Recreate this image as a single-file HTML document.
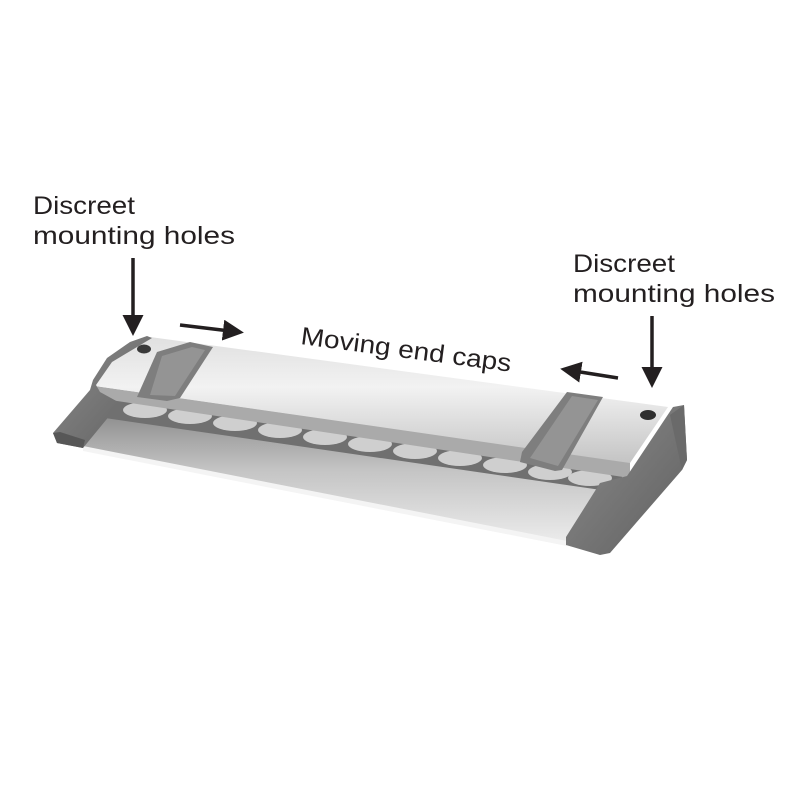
<!DOCTYPE html>
<html><head><meta charset="utf-8"><style>
html,body{margin:0;padding:0;background:#fff;width:800px;height:800px;overflow:hidden}
svg text{font-family:"Liberation Sans",sans-serif;fill:#231f20;font-size:25px}
</style></head><body>
<svg width="800" height="800" viewBox="0 0 800 800" xmlns="http://www.w3.org/2000/svg">
<defs>
<linearGradient id="top" x1="0" y1="0" x2="0" y2="1">
<stop offset="0" stop-color="#e0e0e0"/><stop offset="0.4" stop-color="#f2f2f2"/><stop offset="1" stop-color="#c4c4c4"/></linearGradient>
<linearGradient id="base" x1="0" y1="0" x2="0" y2="1">
<stop offset="0" stop-color="#8a8a8a"/><stop offset="0.45" stop-color="#c4c4c4"/><stop offset="1" stop-color="#ececec"/></linearGradient>
<linearGradient id="cap" x1="0" y1="0" x2="1" y2="1">
<stop offset="0" stop-color="#8c8c8c"/><stop offset="1" stop-color="#606060"/></linearGradient>
<marker id="ah" markerWidth="6" markerHeight="6" refX="2" refY="3" orient="auto" markerUnits="strokeWidth"><path d="M0,0 L6,3 L0,6 z" fill="#231f20"/></marker>
</defs>

<polygon points="88,410 620,485 600,500 567,543 83,448" fill="url(#base)"/>
<polygon points="83,446 567,541 567,546 83,451" fill="#f4f4f4"/>
<polygon points="105,395 625,472 615,492 105,418" fill="#707070"/>
<g fill="#cfcfcf">
<ellipse cx="145" cy="410" rx="22" ry="8"/><ellipse cx="190" cy="416" rx="22" ry="8"/>
<ellipse cx="235" cy="423" rx="22" ry="8"/><ellipse cx="280" cy="430" rx="22" ry="8"/>
<ellipse cx="325" cy="437" rx="22" ry="8"/><ellipse cx="370" cy="444" rx="22" ry="8"/>
<ellipse cx="415" cy="451" rx="22" ry="8"/><ellipse cx="460" cy="458" rx="22" ry="8"/>
<ellipse cx="505" cy="465" rx="22" ry="8"/><ellipse cx="550" cy="472" rx="22" ry="8"/>
<ellipse cx="590" cy="478" rx="22" ry="8"/>
</g>
<polygon points="95,386 630,462 630,478 97,398" fill="#aaaaaa"/>
<polygon points="150,337 668,407 630,463 95,386 107,358" fill="url(#top)"/>
<ellipse cx="144" cy="349" rx="7" ry="4.5" fill="#3a3a3a"/>
<ellipse cx="648" cy="415" rx="8" ry="5" fill="#2e2e2e"/>
<polygon points="157,352 190,342 213,347 180,398 167,401 137,397" fill="#7e7e7e"/>
<polygon points="162,356 192,347 205,350 175,396 150,395" fill="#949494"/>
<polygon points="567,392 603,397 562,470 555,471 520,462 522,452" fill="#7e7e7e"/>
<polygon points="572,396 598,400 558,466 530,458" fill="#949494"/>
<polygon points="147,336 152,338 112,362 96,385 100,392 120,403 83,448 57,443 53,433 90,390 93,380 107,358 130,342" fill="url(#cap)"/>
<polygon points="53,433 57,443 83,448 85,440 60,432" fill="#575757"/>
<polygon points="673,407 684,405 687,460 682,470 610,553 600,555 566,545 566,537 600,483 627,476" fill="url(#cap)"/>
<polygon points="684,405 687,460 682,470 670,415" fill="#6a6a6a"/>

<text x="33" y="214" textLength="102" lengthAdjust="spacingAndGlyphs">Discreet</text>
<text x="33" y="244" textLength="202" lengthAdjust="spacingAndGlyphs">mounting holes</text>
<text x="573" y="272" textLength="102" lengthAdjust="spacingAndGlyphs">Discreet</text>
<text x="573" y="302" textLength="202" lengthAdjust="spacingAndGlyphs">mounting holes</text>
<text x="300" y="344" transform="rotate(7.5 300 344)" textLength="212" lengthAdjust="spacingAndGlyphs">Moving end caps</text>

<line x1="133" y1="258" x2="133" y2="322" stroke="#231f20" stroke-width="3.5" marker-end="url(#ah)"/>
<line x1="652" y1="316" x2="652" y2="374" stroke="#231f20" stroke-width="3.5" marker-end="url(#ah)"/>
<line x1="180" y1="325" x2="230" y2="331" stroke="#231f20" stroke-width="3.5" marker-end="url(#ah)"/>
<line x1="618" y1="378" x2="574" y2="371" stroke="#231f20" stroke-width="3.5" marker-end="url(#ah)"/>
</svg>
</body></html>
